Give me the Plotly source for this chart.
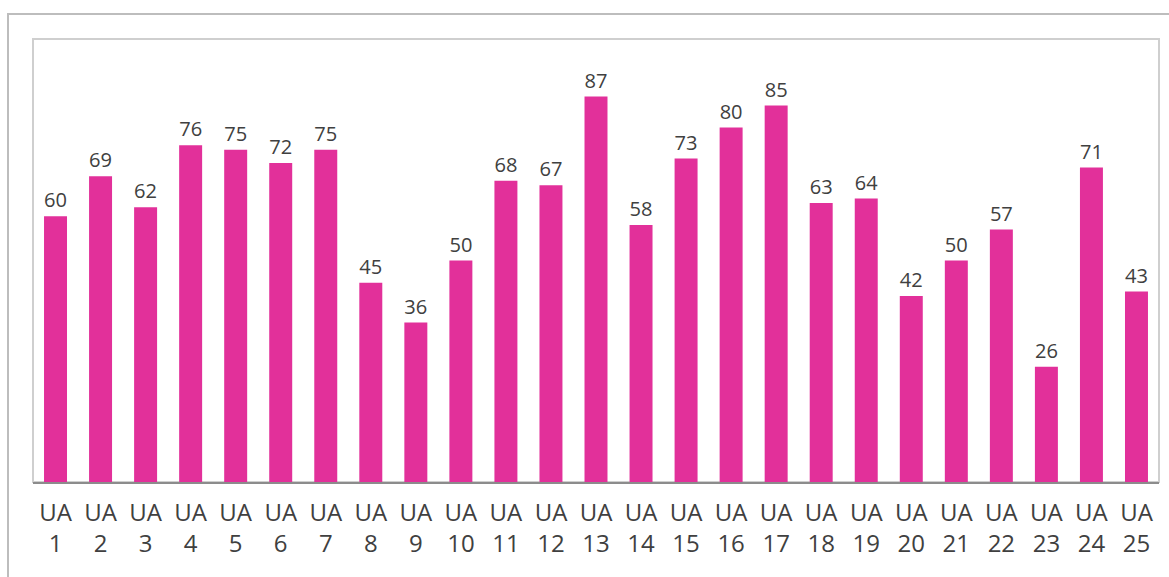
import plotly.graph_objects as go

categories = [f"UA<br>{i}" for i in range(1, 26)]
values = [60, 69, 62, 76, 75, 72, 75, 45, 36, 50, 68, 67, 87, 58, 73, 80, 85, 63, 64, 42, 50, 57, 26, 71, 43]

W, H = 1169, 577
L, R, T, B = 33, 10, 39, 95
pw, ph = W - L - R, H - T - B

def px2x(px):
    return (px - L) / pw

def py2y(py):
    return (H - B - py) / ph

fig = go.Figure(go.Bar(
    x=categories, y=values,
    marker=dict(color="#E2309A", line=dict(width=0)),
    text=[str(v) for v in values], textposition="outside",
    textfont=dict(family="Open Sans", size=24, color="#404040"),
    cliponaxis=False,
))

fig.update_layout(
    width=W, height=H,
    margin=dict(l=L, r=R, t=T, b=B),
    paper_bgcolor="white", plot_bgcolor="white",
    bargap=0.49,
    showlegend=False,
    font=dict(family="Open Sans", size=24, color="#404040"),
    xaxis=dict(showgrid=False, ticks="", showline=True, linecolor="#8C8C8C", linewidth=2,
               tickfont=dict(family="Open Sans", size=24, color="#404040"), ticklabelstandoff=8),
    yaxis=dict(range=[0, 100], showgrid=False, showticklabels=False, zeroline=False,
               showline=False),
    shapes=[
        dict(type="rect", xref="paper", yref="paper", x0=0, x1=1, y0=0, y1=1,
             line=dict(color="#CFCFCF", width=2), layer="below"),
        dict(type="rect", xref="paper", yref="paper", x0=px2x(8), x1=px2x(1175),
             y0=py2y(590), y1=py2y(14), line=dict(color="#BDBDBD", width=2), layer="below"),
    ],
)

fig.write_html("out.html", config={"displayModeBar": False},
               post_script="document.body.style.margin='0';")
